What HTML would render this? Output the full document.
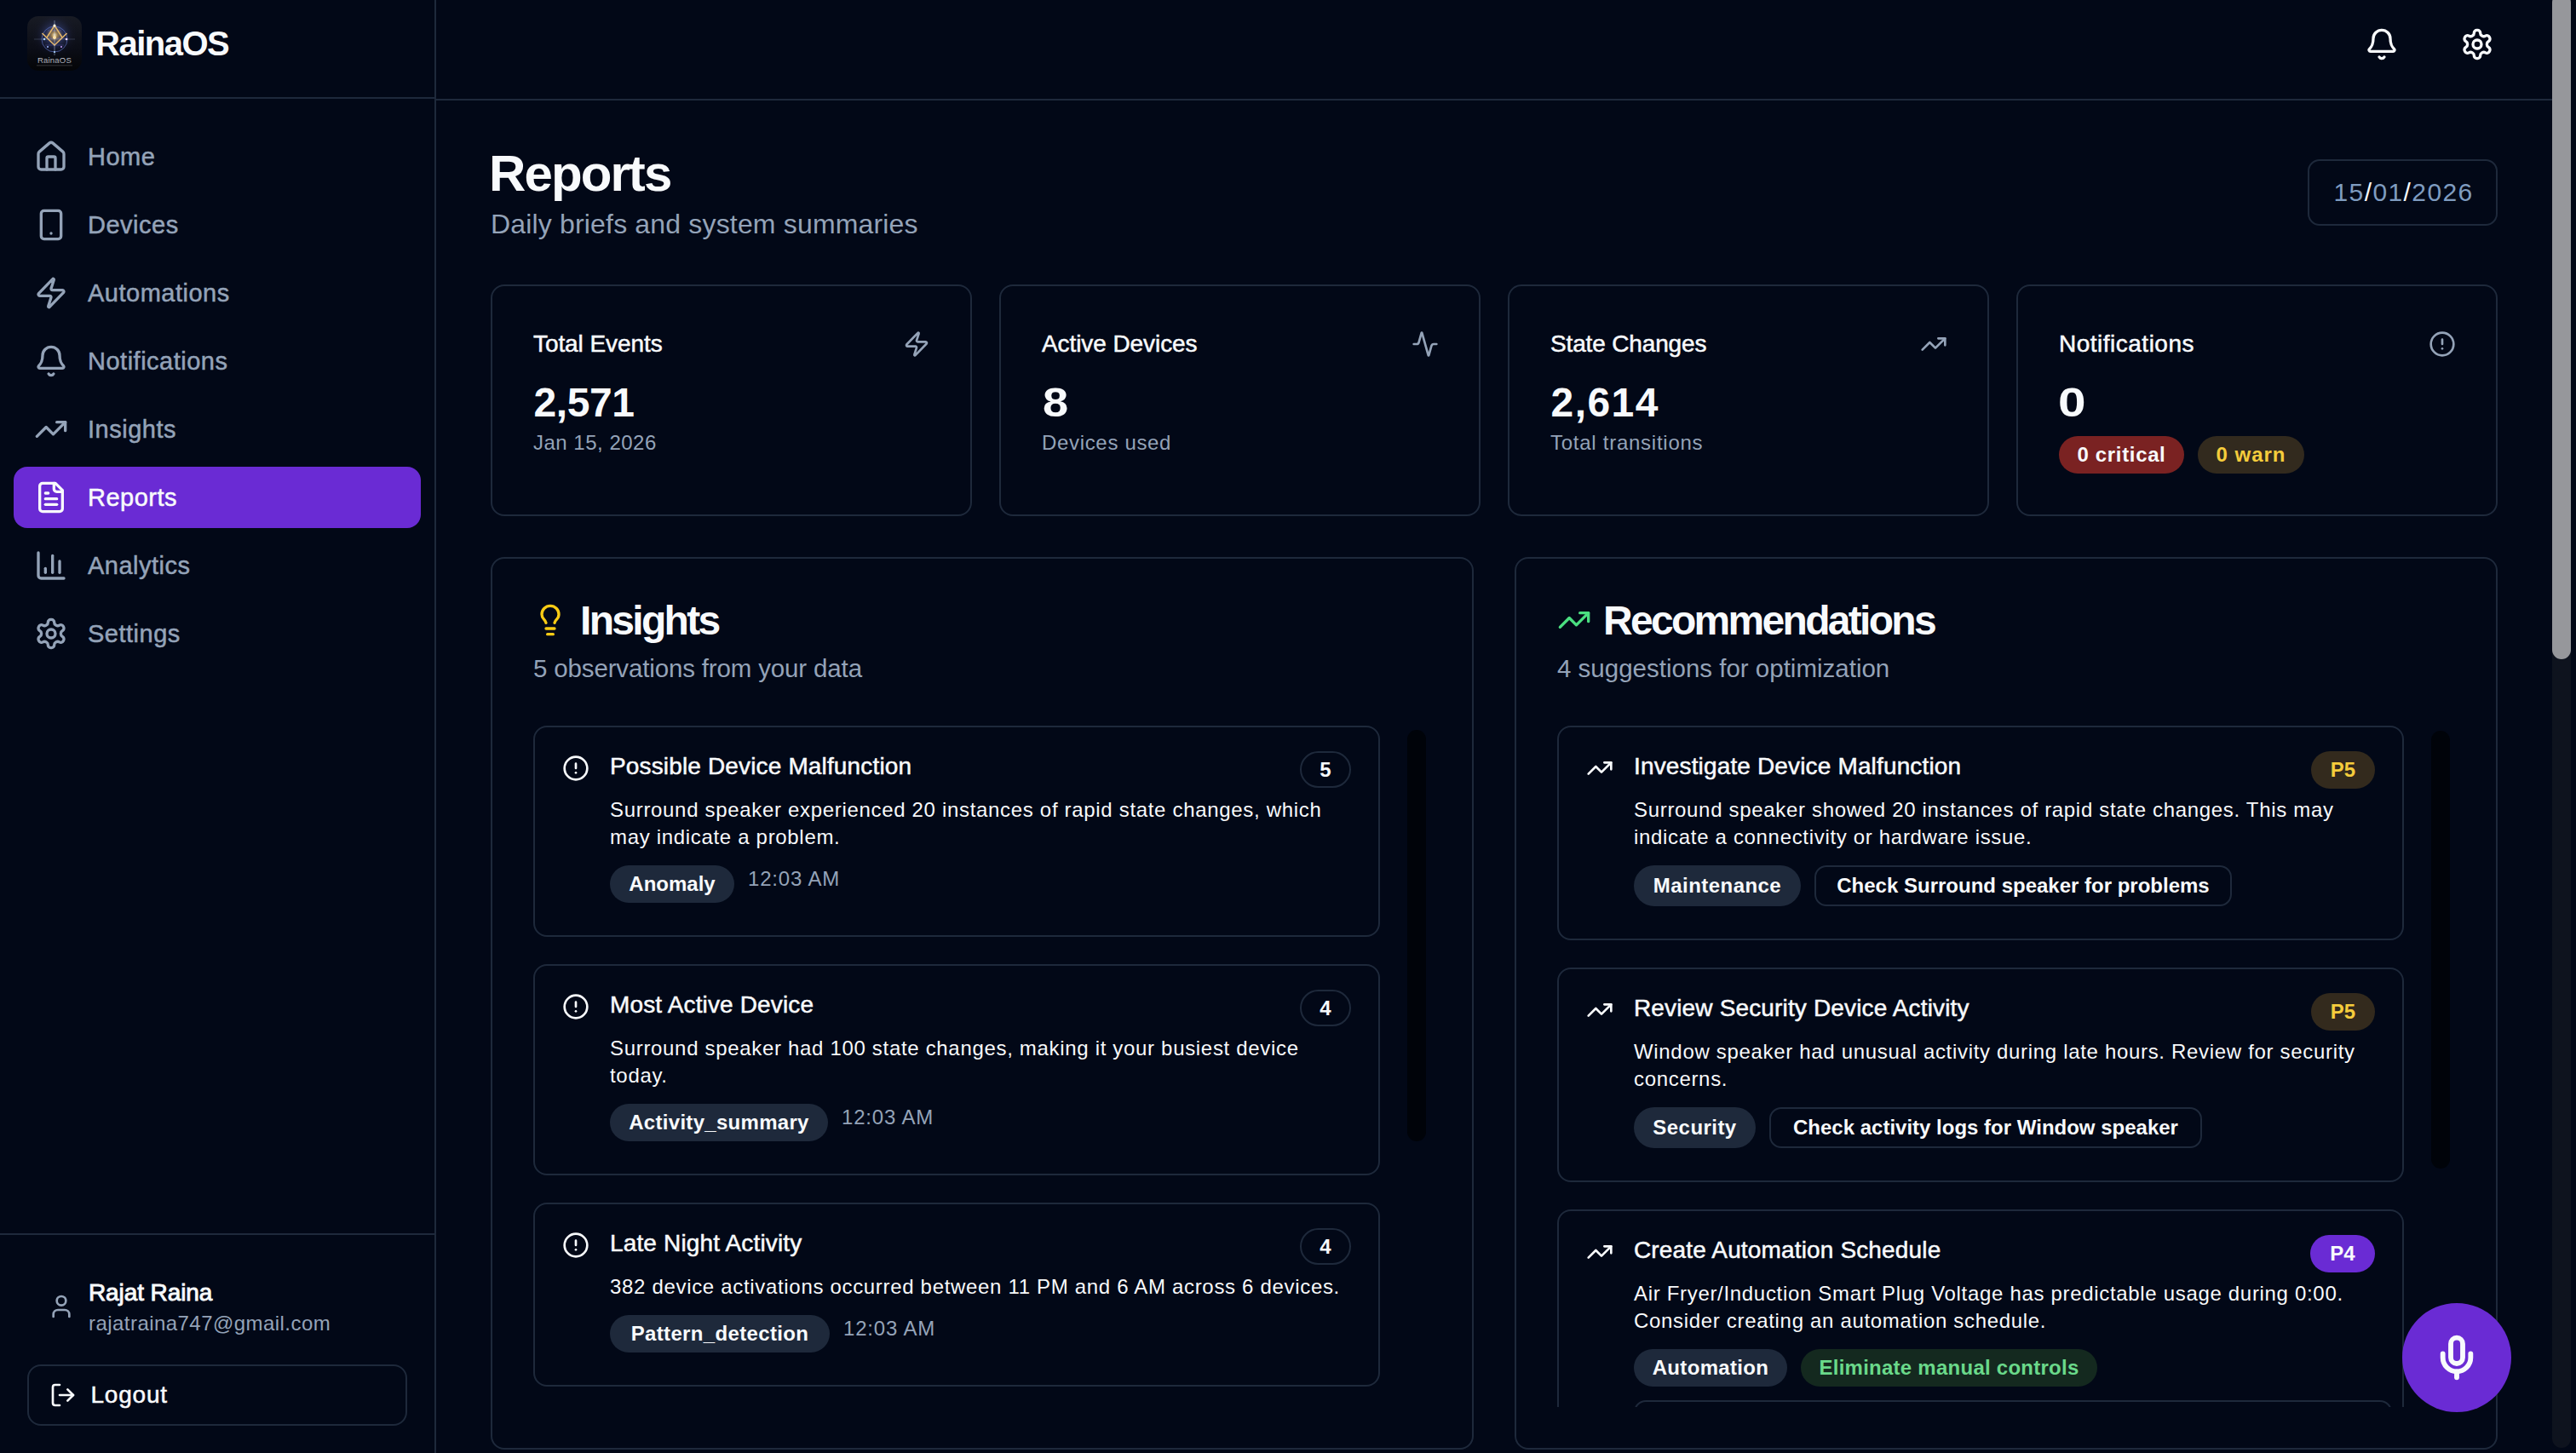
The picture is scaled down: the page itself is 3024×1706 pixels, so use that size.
<!DOCTYPE html>
<html><head><meta charset="utf-8"><title>RainaOS Reports</title>
<style>
html,body{margin:0;padding:0;background:#020817;width:3024px;height:1706px;overflow:hidden}
body{position:relative;font-family:"Liberation Sans",sans-serif;}
.t{position:absolute;white-space:nowrap;}
.pill{position:absolute;box-sizing:border-box;text-align:center;white-space:nowrap;}
svg{display:block}
</style></head><body>
<div style="position:absolute;left:510px;top:0px;width:2px;height:1706px;box-sizing:border-box;background:#1e293b"></div>
<div style="position:absolute;left:0px;top:114px;width:510px;height:2px;box-sizing:border-box;background:#1e293b"></div>
<svg style="position:absolute;left:32px;top:19px" width="64" height="64" viewBox="0 0 64 64">
<defs>
<clipPath id="lc"><rect x="0" y="0" width="64" height="64" rx="13" ry="13"/></clipPath>
<linearGradient id="lbg" x1="0" y1="0" x2="0" y2="1"><stop offset="0" stop-color="#181b24"/><stop offset="0.6" stop-color="#0b0d16"/><stop offset="1" stop-color="#040507"/></linearGradient>
<radialGradient id="lglow" cx="0.5" cy="0.42" r="0.5"><stop offset="0" stop-color="#fff3d0" stop-opacity="0.95"/><stop offset="0.12" stop-color="#f0c070" stop-opacity="0.6"/><stop offset="0.35" stop-color="#5a6fd8" stop-opacity="0.28"/><stop offset="0.7" stop-color="#2a2f70" stop-opacity="0.06"/><stop offset="1" stop-color="#000" stop-opacity="0"/></radialGradient>
<linearGradient id="ltxt" x1="0" y1="0" x2="0" y2="1"><stop offset="0" stop-color="#e8e9ee"/><stop offset="1" stop-color="#8a8d96"/></linearGradient>
</defs>
<g clip-path="url(#lc)">
<rect width="64" height="64" fill="url(#lbg)"/>
<circle cx="32" cy="27" r="30" fill="url(#lglow)"/>
<circle cx="32" cy="27" r="15" fill="none" stroke="#6f86e8" stroke-opacity="0.55" stroke-width="1"/>
<path d="M21 34 L43 34 M19 26 L45 26 M24 17 L40 17" stroke="#7b7ff0" stroke-opacity="0.35" stroke-width="0.8"/>
<path d="M17.5 20 L32 34 L46.5 20" fill="none" stroke="#e2b56a" stroke-width="1.6"/>
<path d="M23 25 L32 11 L41 25" fill="none" stroke="#e2b56a" stroke-width="1.5"/>
<path d="M32 5 L32 46" stroke="#cfe3ff" stroke-opacity="0.6" stroke-width="0.7"/>
<path d="M8 27 L56 27" stroke="#bcd0ff" stroke-opacity="0.35" stroke-width="0.6"/>
<circle cx="32" cy="11" r="1.6" fill="#fff6dc"/>
<circle cx="32" cy="25" r="2" fill="#ffe3a8"/>
<circle cx="20" cy="27" r="1.3" fill="#a9d4ff"/>
<circle cx="46" cy="27" r="1.3" fill="#f0d8ff"/>
<circle cx="24" cy="36" r="1" fill="#9fb8ff"/>
<circle cx="40" cy="36" r="1" fill="#c9a0ff"/>
<circle cx="32" cy="42" r="1.1" fill="#a9d4ff"/>
<text x="32" y="55" text-anchor="middle" font-family="Liberation Sans, sans-serif" font-size="9.5" fill="url(#ltxt)" letter-spacing="0.2">RainaOS</text>
<rect x="11" y="57.5" width="42" height="0.8" fill="#777" opacity="0.5"/>
</g></svg>
<div class="t" style="left:112.0px;top:31.1px;font-size:40px;line-height:40px;color:#f8fafc;font-weight:700;letter-spacing:-1.5px;">RainaOS</div>
<svg style="position:absolute;left:40px;top:164px" width="40" height="40" viewBox="0 0 24 24" fill="none" stroke="#94a3b8" stroke-width="2" stroke-linecap="round" stroke-linejoin="round"><path d="M15 21v-8a1 1 0 0 0-1-1h-4a1 1 0 0 0-1 1v8"/><path d="M3 10a2 2 0 0 1 .709-1.528l7-5.999a2 2 0 0 1 2.582 0l7 5.999A2 2 0 0 1 21 10v9a2 2 0 0 1-2 2H5a2 2 0 0 1-2-2z"/></svg>
<div class="t" style="left:103.0px;top:169.5px;font-size:29px;line-height:29px;color:#94a3b8;font-weight:400;letter-spacing:0.5px;-webkit-text-stroke:0.5px #94a3b8;">Home</div>
<svg style="position:absolute;left:40px;top:244px" width="40" height="40" viewBox="0 0 24 24" fill="none" stroke="#94a3b8" stroke-width="2" stroke-linecap="round" stroke-linejoin="round"><rect width="14" height="20" x="5" y="2" rx="2" ry="2"/><path d="M12 18h.01"/></svg>
<div class="t" style="left:103.0px;top:249.5px;font-size:29px;line-height:29px;color:#94a3b8;font-weight:400;letter-spacing:0.5px;-webkit-text-stroke:0.5px #94a3b8;">Devices</div>
<svg style="position:absolute;left:40px;top:324px" width="40" height="40" viewBox="0 0 24 24" fill="none" stroke="#94a3b8" stroke-width="2" stroke-linecap="round" stroke-linejoin="round"><path d="M4 14a1 1 0 0 1-.78-1.63l9.9-10.2a.5.5 0 0 1 .86.46l-1.92 6.02A1 1 0 0 0 13 10h7a1 1 0 0 1 .78 1.63l-9.9 10.2a.5.5 0 0 1-.86-.46l1.92-6.02A1 1 0 0 0 11 14z"/></svg>
<div class="t" style="left:103.0px;top:329.5px;font-size:29px;line-height:29px;color:#94a3b8;font-weight:400;letter-spacing:0.5px;-webkit-text-stroke:0.5px #94a3b8;">Automations</div>
<svg style="position:absolute;left:40px;top:404px" width="40" height="40" viewBox="0 0 24 24" fill="none" stroke="#94a3b8" stroke-width="2" stroke-linecap="round" stroke-linejoin="round"><path d="M10.268 21a2 2 0 0 0 3.464 0"/><path d="M3.262 15.326A1 1 0 0 0 4 17h16a1 1 0 0 0 .74-1.673C19.41 13.956 18 12.499 18 8A6 6 0 0 0 6 8c0 4.499-1.411 5.956-2.738 7.326"/></svg>
<div class="t" style="left:103.0px;top:409.5px;font-size:29px;line-height:29px;color:#94a3b8;font-weight:400;letter-spacing:0.5px;-webkit-text-stroke:0.5px #94a3b8;">Notifications</div>
<svg style="position:absolute;left:40px;top:484px" width="40" height="40" viewBox="0 0 24 24" fill="none" stroke="#94a3b8" stroke-width="2" stroke-linecap="round" stroke-linejoin="round"><polyline points="22 7 13.5 15.5 8.5 10.5 2 17"/><polyline points="16 7 22 7 22 13"/></svg>
<div class="t" style="left:103.0px;top:489.5px;font-size:29px;line-height:29px;color:#94a3b8;font-weight:400;letter-spacing:0.5px;-webkit-text-stroke:0.5px #94a3b8;">Insights</div>
<div style="position:absolute;left:16px;top:548px;width:478px;height:72px;box-sizing:border-box;background:#6a2bd4;border-radius:16px"></div>
<svg style="position:absolute;left:40px;top:564px" width="40" height="40" viewBox="0 0 24 24" fill="none" stroke="#f8fafc" stroke-width="2" stroke-linecap="round" stroke-linejoin="round"><path d="M15 2H6a2 2 0 0 0-2 2v16a2 2 0 0 0 2 2h12a2 2 0 0 0 2-2V7Z"/><path d="M14 2v4a2 2 0 0 0 2 2h4"/><path d="M10 9H8"/><path d="M16 13H8"/><path d="M16 17H8"/></svg>
<div class="t" style="left:103.0px;top:569.5px;font-size:29px;line-height:29px;color:#f8fafc;font-weight:400;letter-spacing:0.5px;-webkit-text-stroke:0.5px #f8fafc;">Reports</div>
<svg style="position:absolute;left:40px;top:644px" width="40" height="40" viewBox="0 0 24 24" fill="none" stroke="#94a3b8" stroke-width="2" stroke-linecap="round" stroke-linejoin="round"><path d="M3 3v16a2 2 0 0 0 2 2h16"/><path d="M18 17V9"/><path d="M13 17V5"/><path d="M8 17v-3"/></svg>
<div class="t" style="left:103.0px;top:649.5px;font-size:29px;line-height:29px;color:#94a3b8;font-weight:400;letter-spacing:0.5px;-webkit-text-stroke:0.5px #94a3b8;">Analytics</div>
<svg style="position:absolute;left:40px;top:724px" width="40" height="40" viewBox="0 0 24 24" fill="none" stroke="#94a3b8" stroke-width="2" stroke-linecap="round" stroke-linejoin="round"><path d="M12.22 2h-.44a2 2 0 0 0-2 2v.18a2 2 0 0 1-1 1.73l-.43.25a2 2 0 0 1-2 0l-.15-.08a2 2 0 0 0-2.73.73l-.22.38a2 2 0 0 0 .73 2.73l.15.1a2 2 0 0 1 1 1.72v.51a2 2 0 0 1-1 1.74l-.15.09a2 2 0 0 0-.73 2.73l.22.38a2 2 0 0 0 2.73.73l.15-.08a2 2 0 0 1 2 0l.43.25a2 2 0 0 1 1 1.73V20a2 2 0 0 0 2 2h.44a2 2 0 0 0 2-2v-.18a2 2 0 0 1 1-1.73l.43-.25a2 2 0 0 1 2 0l.15.08a2 2 0 0 0 2.73-.73l.22-.39a2 2 0 0 0-.73-2.73l-.15-.08a2 2 0 0 1-1-1.74v-.5a2 2 0 0 1 1-1.74l.15-.09a2 2 0 0 0 .73-2.73l-.22-.38a2 2 0 0 0-2.73-.73l-.15.08a2 2 0 0 1-2 0l-.43-.25a2 2 0 0 1-1-1.73V4a2 2 0 0 0-2-2z"/><circle cx="12" cy="12" r="3"/></svg>
<div class="t" style="left:103.0px;top:729.5px;font-size:29px;line-height:29px;color:#94a3b8;font-weight:400;letter-spacing:0.5px;-webkit-text-stroke:0.5px #94a3b8;">Settings</div>
<div style="position:absolute;left:0px;top:1448px;width:510px;height:2px;box-sizing:border-box;background:#1e293b"></div>
<svg style="position:absolute;left:56px;top:1518px" width="32" height="32" viewBox="0 0 24 24" fill="none" stroke="#94a3b8" stroke-width="2" stroke-linecap="round" stroke-linejoin="round"><path d="M19 21v-2a4 4 0 0 0-4-4H9a4 4 0 0 0-4 4v2"/><circle cx="12" cy="7" r="4"/></svg>
<div class="t" style="left:104.0px;top:1504.3px;font-size:28px;line-height:28px;color:#f8fafc;font-weight:400;letter-spacing:-0.1px;-webkit-text-stroke:0.9px #f8fafc;">Rajat Raina</div>
<div class="t" style="left:104.0px;top:1541.7px;font-size:24px;line-height:24px;color:#94a3b8;font-weight:400;letter-spacing:0.45px;">rajatraina747@gmail.com</div>
<div style="position:absolute;left:32px;top:1602px;width:446px;height:72px;box-sizing:border-box;border:2px solid #1e293b;border-radius:16px"></div>
<svg style="position:absolute;left:58px;top:1622px" width="32" height="32" viewBox="0 0 24 24" fill="none" stroke="#f8fafc" stroke-width="2" stroke-linecap="round" stroke-linejoin="round"><path d="M9 21H5a2 2 0 0 1-2-2V5a2 2 0 0 1 2-2h4"/><polyline points="16 17 21 12 16 7"/><line x1="21" x2="9" y1="12" y2="12"/></svg>
<div class="t" style="left:106.5px;top:1624.3px;font-size:28px;line-height:28px;color:#f8fafc;font-weight:400;letter-spacing:0.8px;-webkit-text-stroke:0.5px #f8fafc;">Logout</div>
<div style="position:absolute;left:512px;top:116px;width:2484px;height:2px;box-sizing:border-box;background:#1e293b"></div>
<svg style="position:absolute;left:2776px;top:32px" width="40" height="40" viewBox="0 0 24 24" fill="none" stroke="#f8fafc" stroke-width="2" stroke-linecap="round" stroke-linejoin="round"><path d="M10.268 21a2 2 0 0 0 3.464 0"/><path d="M3.262 15.326A1 1 0 0 0 4 17h16a1 1 0 0 0 .74-1.673C19.41 13.956 18 12.499 18 8A6 6 0 0 0 6 8c0 4.499-1.411 5.956-2.738 7.326"/></svg>
<svg style="position:absolute;left:2888px;top:32px" width="40" height="40" viewBox="0 0 24 24" fill="none" stroke="#f8fafc" stroke-width="2" stroke-linecap="round" stroke-linejoin="round"><path d="M12.22 2h-.44a2 2 0 0 0-2 2v.18a2 2 0 0 1-1 1.73l-.43.25a2 2 0 0 1-2 0l-.15-.08a2 2 0 0 0-2.73.73l-.22.38a2 2 0 0 0 .73 2.73l.15.1a2 2 0 0 1 1 1.72v.51a2 2 0 0 1-1 1.74l-.15.09a2 2 0 0 0-.73 2.73l.22.38a2 2 0 0 0 2.73.73l.15-.08a2 2 0 0 1 2 0l.43.25a2 2 0 0 1 1 1.73V20a2 2 0 0 0 2 2h.44a2 2 0 0 0 2-2v-.18a2 2 0 0 1 1-1.73l.43-.25a2 2 0 0 1 2 0l.15.08a2 2 0 0 0 2.73-.73l.22-.39a2 2 0 0 0-.73-2.73l-.15-.08a2 2 0 0 1-1-1.74v-.5a2 2 0 0 1 1-1.74l.15-.09a2 2 0 0 0 .73-2.73l-.22-.38a2 2 0 0 0-2.73-.73l-.15.08a2 2 0 0 1-2 0l-.43-.25a2 2 0 0 1-1-1.73V4a2 2 0 0 0-2-2z"/><circle cx="12" cy="12" r="3"/></svg>
<div style="position:absolute;left:2996px;top:0px;width:22px;height:1700px;box-sizing:border-box;background:#0e131e;border-radius:11px"></div>
<div style="position:absolute;left:2996px;top:-8px;width:22px;height:782px;box-sizing:border-box;background:#96979b;border-radius:11px"></div>
<div class="t" style="left:574.0px;top:174.2px;font-size:60px;line-height:60px;color:#f8fafc;font-weight:700;letter-spacing:-1.9px;">Reports</div>
<div class="t" style="left:576.0px;top:246.9px;font-size:32px;line-height:32px;color:#94a3b8;font-weight:400;letter-spacing:0.17px;">Daily briefs and system summaries</div>
<div style="position:absolute;left:2709px;top:187px;width:223px;height:78px;box-sizing:border-box;border:2px solid #1e293b;border-radius:14px"></div>
<div class="t" style="left:2739.5px;top:210.6px;font-size:30px;line-height:30px;color:#f8fafc;font-weight:400;letter-spacing:1.4px;"><span style="color:#7f9cc0">15</span>/<span style="color:#7f9cc0">01</span>/<span style="color:#7f9cc0">2026</span></div>
<div style="position:absolute;left:576px;top:334px;width:565px;height:272px;box-sizing:border-box;border:2px solid #1e293b;border-radius:16px"></div>
<div class="t" style="left:626.0px;top:390.3px;font-size:28px;line-height:28px;color:#f8fafc;font-weight:400;letter-spacing:-0.08px;-webkit-text-stroke:0.5px #f8fafc;">Total Events</div>
<svg style="position:absolute;left:1060px;top:388px" width="32" height="32" viewBox="0 0 24 24" fill="none" stroke="#94a3b8" stroke-width="2" stroke-linecap="round" stroke-linejoin="round"><path d="M4 14a1 1 0 0 1-.78-1.63l9.9-10.2a.5.5 0 0 1 .86.46l-1.92 6.02A1 1 0 0 0 13 10h7a1 1 0 0 1 .78 1.63l-9.9 10.2a.5.5 0 0 1-.86-.46l1.92-6.02A1 1 0 0 0 11 14z"/></svg>
<div class="t" style="left:626.5px;top:449.4px;font-size:48px;line-height:48px;color:#f8fafc;font-weight:700;letter-spacing:-0.4px;">2,571</div>
<div class="t" style="left:626.0px;top:507.7px;font-size:24px;line-height:24px;color:#94a3b8;font-weight:400;letter-spacing:0.5px;">Jan 15, 2026</div>
<div style="position:absolute;left:1173px;top:334px;width:565px;height:272px;box-sizing:border-box;border:2px solid #1e293b;border-radius:16px"></div>
<div class="t" style="left:1223.0px;top:390.3px;font-size:28px;line-height:28px;color:#f8fafc;font-weight:400;letter-spacing:-0.08px;-webkit-text-stroke:0.5px #f8fafc;">Active Devices</div>
<svg style="position:absolute;left:1657px;top:388px" width="32" height="32" viewBox="0 0 24 24" fill="none" stroke="#94a3b8" stroke-width="2" stroke-linecap="round" stroke-linejoin="round"><path d="M22 12h-2.48a2 2 0 0 0-1.93 1.46l-2.35 8.36a.25.25 0 0 1-.48 0L9.24 2.18a.25.25 0 0 0-.48 0l-2.35 8.36A2 2 0 0 1 4.49 12H2"/></svg>
<div class="t" style="left:1223.5px;top:449.4px;font-size:48px;line-height:48px;color:#f8fafc;font-weight:700;letter-spacing:0px;transform:scaleX(1.13);transform-origin:0 0;">8</div>
<div class="t" style="left:1223.0px;top:507.7px;font-size:24px;line-height:24px;color:#94a3b8;font-weight:400;letter-spacing:0.67px;">Devices used</div>
<div style="position:absolute;left:1770px;top:334px;width:565px;height:272px;box-sizing:border-box;border:2px solid #1e293b;border-radius:16px"></div>
<div class="t" style="left:1820.0px;top:390.3px;font-size:28px;line-height:28px;color:#f8fafc;font-weight:400;letter-spacing:-0.15px;-webkit-text-stroke:0.5px #f8fafc;">State Changes</div>
<svg style="position:absolute;left:2254px;top:388px" width="32" height="32" viewBox="0 0 24 24" fill="none" stroke="#94a3b8" stroke-width="2" stroke-linecap="round" stroke-linejoin="round"><polyline points="22 7 13.5 15.5 8.5 10.5 2 17"/><polyline points="16 7 22 7 22 13"/></svg>
<div class="t" style="left:1820.5px;top:449.4px;font-size:48px;line-height:48px;color:#f8fafc;font-weight:700;letter-spacing:1.45px;">2,614</div>
<div class="t" style="left:1820.0px;top:507.7px;font-size:24px;line-height:24px;color:#94a3b8;font-weight:400;letter-spacing:0.74px;">Total transitions</div>
<div style="position:absolute;left:2367px;top:334px;width:565px;height:272px;box-sizing:border-box;border:2px solid #1e293b;border-radius:16px"></div>
<div class="t" style="left:2417.0px;top:390.3px;font-size:28px;line-height:28px;color:#f8fafc;font-weight:400;letter-spacing:0.5px;-webkit-text-stroke:0.5px #f8fafc;">Notifications</div>
<svg style="position:absolute;left:2851px;top:388px" width="32" height="32" viewBox="0 0 24 24" fill="none" stroke="#94a3b8" stroke-width="2" stroke-linecap="round" stroke-linejoin="round"><circle cx="12" cy="12" r="10"/><line x1="12" x2="12" y1="8" y2="12"/><line x1="12" x2="12.01" y1="16" y2="16"/></svg>
<div class="t" style="left:2415.5px;top:449.4px;font-size:48px;line-height:48px;color:#f8fafc;font-weight:700;letter-spacing:0px;transform:scaleX(1.22);transform-origin:0 0;">0</div>
<div class="pill" style="left:2417px;top:512px;width:147px;height:44px;border-radius:22.0px;background:#7a2222;color:#f8fafc;font-size:24px;font-weight:700;letter-spacing:0.65px;line-height:44px">0 critical</div>
<div class="pill" style="left:2580px;top:512px;width:125px;height:44px;border-radius:22.0px;background:#322a1e;color:#f5cc3c;font-size:24px;font-weight:700;letter-spacing:1.0px;line-height:44px">0 warn</div>
<div style="position:absolute;left:576px;top:654px;width:1154px;height:1048px;box-sizing:border-box;border:2px solid #1e293b;border-radius:16px"></div>
<div style="position:absolute;left:1778px;top:654px;width:1154px;height:1048px;box-sizing:border-box;border:2px solid #1e293b;border-radius:16px"></div>
<svg style="position:absolute;left:626px;top:708px" width="40" height="40" viewBox="0 0 24 24" fill="none" stroke="#facc15" stroke-width="2" stroke-linecap="round" stroke-linejoin="round"><path d="M15 14c.2-1 .7-1.7 1.5-2.5 1-.9 1.5-2.2 1.5-3.5A6 6 0 0 0 6 8c0 1 .2 2.2 1.5 3.5.7.7 1.3 1.5 1.5 2.5"/><path d="M9 18h6"/><path d="M10 22h4"/></svg>
<div class="t" style="left:681.0px;top:705.4px;font-size:48px;line-height:48px;color:#f8fafc;font-weight:700;letter-spacing:-2.7px;">Insights</div>
<div class="t" style="left:626.0px;top:769.5px;font-size:29.5px;line-height:29.5px;color:#94a3b8;font-weight:400;letter-spacing:-0.15px;">5 observations from your data</div>
<svg style="position:absolute;left:1828px;top:708px" width="40" height="40" viewBox="0 0 24 24" fill="none" stroke="#4ade80" stroke-width="2" stroke-linecap="round" stroke-linejoin="round"><polyline points="22 7 13.5 15.5 8.5 10.5 2 17"/><polyline points="16 7 22 7 22 13"/></svg>
<div class="t" style="left:1882.0px;top:705.4px;font-size:48px;line-height:48px;color:#f8fafc;font-weight:700;letter-spacing:-2.7px;">Recommendations</div>
<div class="t" style="left:1828.0px;top:769.5px;font-size:29.5px;line-height:29.5px;color:#94a3b8;font-weight:400;letter-spacing:0px;">4 suggestions for optimization</div>
<div style="position:absolute;left:1652px;top:857px;width:22px;height:483px;box-sizing:border-box;background:#000309;border-radius:11px"></div>
<div style="position:absolute;left:2854px;top:858px;width:22px;height:514px;box-sizing:border-box;background:#000309;border-radius:11px"></div>
<div style="position:absolute;left:0;top:0;width:3024px;height:1652px;overflow:hidden">
<div style="position:absolute;left:626px;top:852px;width:994px;height:248px;box-sizing:border-box;border:2px solid #1e293b;border-radius:16px"></div>
<svg style="position:absolute;left:660px;top:886px" width="32" height="32" viewBox="0 0 24 24" fill="none" stroke="#f8fafc" stroke-width="2" stroke-linecap="round" stroke-linejoin="round"><circle cx="12" cy="12" r="10"/><line x1="12" x2="12" y1="8" y2="12"/><line x1="12" x2="12.01" y1="16" y2="16"/></svg>
<div class="t" style="left:716.0px;top:886.3px;font-size:28px;line-height:28px;color:#f8fafc;font-weight:400;letter-spacing:0.15px;-webkit-text-stroke:0.5px #f8fafc;">Possible Device Malfunction</div>
<div class="pill" style="left:1526px;top:882px;width:60px;height:43px;border-radius:21.5px;background:transparent;border:2px solid #1e293b;color:#f8fafc;font-size:24px;font-weight:700;letter-spacing:0px;line-height:39px">5</div>
<div class="t" style="left:716.0px;top:938.7px;font-size:24px;line-height:24px;color:#f8fafc;font-weight:400;letter-spacing:0.68px;">Surround speaker experienced 20 instances of rapid state changes, which</div>
<div class="t" style="left:716.0px;top:970.7px;font-size:24px;line-height:24px;color:#f8fafc;font-weight:400;letter-spacing:0.68px;">may indicate a problem.</div>
<div class="pill" style="left:716px;top:1016px;width:146px;height:44px;border-radius:22.0px;background:#1e293b;color:#f8fafc;font-size:24px;font-weight:700;letter-spacing:0px;line-height:44px">Anomaly</div>
<div class="t" style="left:878.0px;top:1019.7px;font-size:24px;line-height:24px;color:#94a3b8;font-weight:400;letter-spacing:0.83px;">12:03 AM</div>
<div style="position:absolute;left:626px;top:1132px;width:994px;height:248px;box-sizing:border-box;border:2px solid #1e293b;border-radius:16px"></div>
<svg style="position:absolute;left:660px;top:1166px" width="32" height="32" viewBox="0 0 24 24" fill="none" stroke="#f8fafc" stroke-width="2" stroke-linecap="round" stroke-linejoin="round"><circle cx="12" cy="12" r="10"/><line x1="12" x2="12" y1="8" y2="12"/><line x1="12" x2="12.01" y1="16" y2="16"/></svg>
<div class="t" style="left:716.0px;top:1166.3px;font-size:28px;line-height:28px;color:#f8fafc;font-weight:400;letter-spacing:0.15px;-webkit-text-stroke:0.5px #f8fafc;">Most Active Device</div>
<div class="pill" style="left:1526px;top:1162px;width:60px;height:43px;border-radius:21.5px;background:transparent;border:2px solid #1e293b;color:#f8fafc;font-size:24px;font-weight:700;letter-spacing:0px;line-height:39px">4</div>
<div class="t" style="left:716.0px;top:1218.7px;font-size:24px;line-height:24px;color:#f8fafc;font-weight:400;letter-spacing:0.68px;">Surround speaker had 100 state changes, making it your busiest device</div>
<div class="t" style="left:716.0px;top:1250.7px;font-size:24px;line-height:24px;color:#f8fafc;font-weight:400;letter-spacing:0.68px;">today.</div>
<div class="pill" style="left:716px;top:1296px;width:256px;height:44px;border-radius:22.0px;background:#1e293b;color:#f8fafc;font-size:24px;font-weight:700;letter-spacing:0.3px;line-height:44px">Activity_summary</div>
<div class="t" style="left:988.0px;top:1299.7px;font-size:24px;line-height:24px;color:#94a3b8;font-weight:400;letter-spacing:0.83px;">12:03 AM</div>
<div style="position:absolute;left:626px;top:1412px;width:994px;height:216px;box-sizing:border-box;border:2px solid #1e293b;border-radius:16px"></div>
<svg style="position:absolute;left:660px;top:1446px" width="32" height="32" viewBox="0 0 24 24" fill="none" stroke="#f8fafc" stroke-width="2" stroke-linecap="round" stroke-linejoin="round"><circle cx="12" cy="12" r="10"/><line x1="12" x2="12" y1="8" y2="12"/><line x1="12" x2="12.01" y1="16" y2="16"/></svg>
<div class="t" style="left:716.0px;top:1446.3px;font-size:28px;line-height:28px;color:#f8fafc;font-weight:400;letter-spacing:0.15px;-webkit-text-stroke:0.5px #f8fafc;">Late Night Activity</div>
<div class="pill" style="left:1526px;top:1442px;width:60px;height:43px;border-radius:21.5px;background:transparent;border:2px solid #1e293b;color:#f8fafc;font-size:24px;font-weight:700;letter-spacing:0px;line-height:39px">4</div>
<div class="t" style="left:716.0px;top:1498.7px;font-size:24px;line-height:24px;color:#f8fafc;font-weight:400;letter-spacing:0.68px;">382 device activations occurred between 11 PM and 6 AM across 6 devices.</div>
<div class="pill" style="left:716px;top:1544px;width:258px;height:44px;border-radius:22.0px;background:#1e293b;color:#f8fafc;font-size:24px;font-weight:700;letter-spacing:0.35px;line-height:44px">Pattern_detection</div>
<div class="t" style="left:990.0px;top:1547.7px;font-size:24px;line-height:24px;color:#94a3b8;font-weight:400;letter-spacing:0.83px;">12:03 AM</div>
<div style="position:absolute;left:1828px;top:852px;width:994px;height:252px;box-sizing:border-box;border:2px solid #1e293b;border-radius:16px"></div>
<svg style="position:absolute;left:1862px;top:886px" width="32" height="32" viewBox="0 0 24 24" fill="none" stroke="#f8fafc" stroke-width="2" stroke-linecap="round" stroke-linejoin="round"><polyline points="22 7 13.5 15.5 8.5 10.5 2 17"/><polyline points="16 7 22 7 22 13"/></svg>
<div class="t" style="left:1918.0px;top:886.3px;font-size:28px;line-height:28px;color:#f8fafc;font-weight:400;letter-spacing:0.15px;-webkit-text-stroke:0.5px #f8fafc;">Investigate Device Malfunction</div>
<div class="pill" style="left:2713px;top:882px;width:75px;height:44px;border-radius:22.0px;background:#332a1d;color:#f5cc3c;font-size:24px;font-weight:700;letter-spacing:0px;line-height:44px">P5</div>
<div class="t" style="left:1918.0px;top:938.7px;font-size:24px;line-height:24px;color:#f8fafc;font-weight:400;letter-spacing:0.68px;">Surround speaker showed 20 instances of rapid state changes. This may</div>
<div class="t" style="left:1918.0px;top:970.7px;font-size:24px;line-height:24px;color:#f8fafc;font-weight:400;letter-spacing:0.68px;">indicate a connectivity or hardware issue.</div>
<div class="pill" style="left:1918px;top:1016px;width:196px;height:48px;border-radius:24.0px;background:#1e293b;color:#f8fafc;font-size:24px;font-weight:700;letter-spacing:0.45px;line-height:48px">Maintenance</div>
<div class="pill" style="left:2130px;top:1016px;width:490px;height:48px;border-radius:14px;background:transparent;border:2px solid #1e293b;color:#f8fafc;font-size:24px;font-weight:700;letter-spacing:0px;line-height:44px">Check Surround speaker for problems</div>
<div style="position:absolute;left:1828px;top:1136px;width:994px;height:252px;box-sizing:border-box;border:2px solid #1e293b;border-radius:16px"></div>
<svg style="position:absolute;left:1862px;top:1170px" width="32" height="32" viewBox="0 0 24 24" fill="none" stroke="#f8fafc" stroke-width="2" stroke-linecap="round" stroke-linejoin="round"><polyline points="22 7 13.5 15.5 8.5 10.5 2 17"/><polyline points="16 7 22 7 22 13"/></svg>
<div class="t" style="left:1918.0px;top:1170.3px;font-size:28px;line-height:28px;color:#f8fafc;font-weight:400;letter-spacing:0.15px;-webkit-text-stroke:0.5px #f8fafc;">Review Security Device Activity</div>
<div class="pill" style="left:2713px;top:1166px;width:75px;height:44px;border-radius:22.0px;background:#332a1d;color:#f5cc3c;font-size:24px;font-weight:700;letter-spacing:0px;line-height:44px">P5</div>
<div class="t" style="left:1918.0px;top:1222.7px;font-size:24px;line-height:24px;color:#f8fafc;font-weight:400;letter-spacing:0.68px;">Window speaker had unusual activity during late hours. Review for security</div>
<div class="t" style="left:1918.0px;top:1254.7px;font-size:24px;line-height:24px;color:#f8fafc;font-weight:400;letter-spacing:0.68px;">concerns.</div>
<div class="pill" style="left:1918px;top:1300px;width:143px;height:48px;border-radius:24.0px;background:#1e293b;color:#f8fafc;font-size:24px;font-weight:700;letter-spacing:0.45px;line-height:48px">Security</div>
<div class="pill" style="left:2077px;top:1300px;width:508px;height:48px;border-radius:14px;background:transparent;border:2px solid #1e293b;color:#f8fafc;font-size:24px;font-weight:700;letter-spacing:0px;line-height:44px">Check activity logs for Window speaker</div>
<div style="position:absolute;left:1828px;top:1420px;width:994px;height:400px;box-sizing:border-box;border:2px solid #1e293b;border-radius:16px"></div>
<svg style="position:absolute;left:1862px;top:1454px" width="32" height="32" viewBox="0 0 24 24" fill="none" stroke="#f8fafc" stroke-width="2" stroke-linecap="round" stroke-linejoin="round"><polyline points="22 7 13.5 15.5 8.5 10.5 2 17"/><polyline points="16 7 22 7 22 13"/></svg>
<div class="t" style="left:1918.0px;top:1454.3px;font-size:28px;line-height:28px;color:#f8fafc;font-weight:400;letter-spacing:0.15px;-webkit-text-stroke:0.5px #f8fafc;">Create Automation Schedule</div>
<div class="pill" style="left:2712px;top:1450px;width:76px;height:44px;border-radius:22.0px;background:#6a2bd4;color:#f8fafc;font-size:24px;font-weight:700;letter-spacing:0px;line-height:44px">P4</div>
<div class="t" style="left:1918.0px;top:1506.7px;font-size:24px;line-height:24px;color:#f8fafc;font-weight:400;letter-spacing:0.68px;">Air Fryer/Induction Smart Plug Voltage has predictable usage during 0:00.</div>
<div class="t" style="left:1918.0px;top:1538.7px;font-size:24px;line-height:24px;color:#f8fafc;font-weight:400;letter-spacing:0.68px;">Consider creating an automation schedule.</div>
<div class="pill" style="left:1918px;top:1584px;width:180px;height:44px;border-radius:22.0px;background:#1e293b;color:#f8fafc;font-size:24px;font-weight:700;letter-spacing:0.33px;line-height:44px">Automation</div>
<div class="pill" style="left:2114px;top:1584px;width:348px;height:44px;border-radius:22.0px;background:#14291f;color:#6ad98a;font-size:24px;font-weight:700;letter-spacing:0.25px;line-height:44px">Eliminate manual controls</div>
<div style="position:absolute;left:1918px;top:1644px;width:890px;height:76px;box-sizing:border-box;border:2px solid #1e293b;border-radius:14px"></div>
</div>
<div style="position:absolute;left:2820px;top:1530px;width:128px;height:128px;box-sizing:border-box;background:#6a2bd4;border-radius:50%"></div>
<svg style="position:absolute;left:2856px;top:1566px" width="56" height="56" viewBox="0 0 24 24" fill="none" stroke="#f8fafc" stroke-width="2.5" stroke-linecap="round" stroke-linejoin="round"><path d="M12 2a3 3 0 0 0-3 3v7a3 3 0 0 0 6 0V5a3 3 0 0 0-3-3Z"/><path d="M19 10v2a7 7 0 0 1-14 0v-2"/><line x1="12" x2="12" y1="19" y2="22"/></svg>
</body></html>
